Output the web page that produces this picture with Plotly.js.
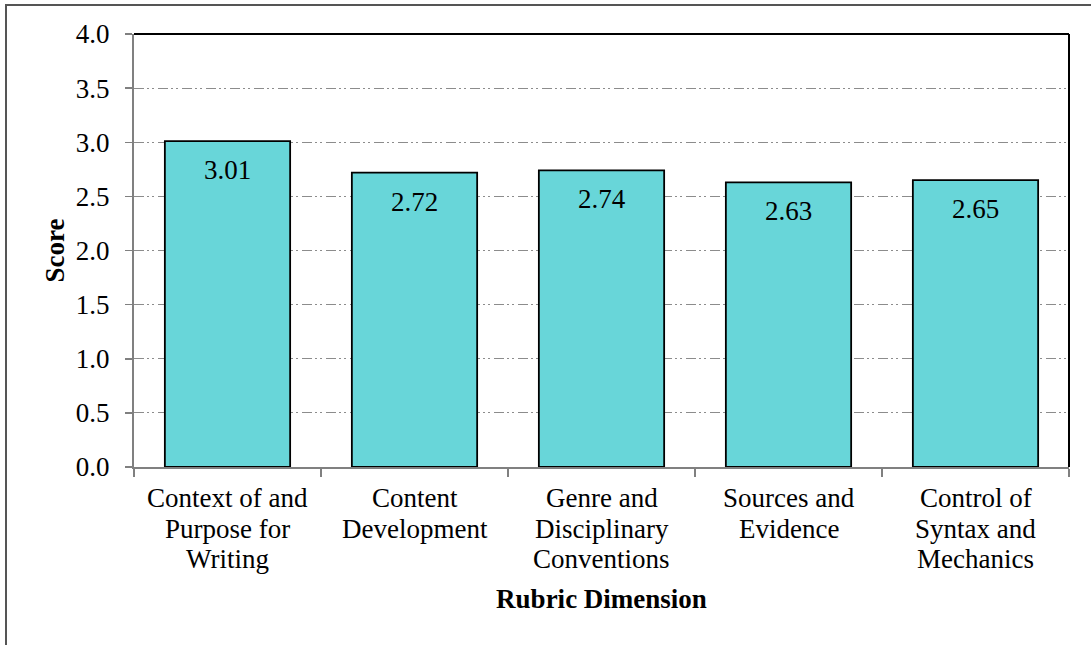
<!DOCTYPE html>
<html>
<head>
<meta charset="utf-8">
<script src="https://cdn.plot.ly/plotly-3.0.1.min.js"></script>
<style>
  html, body { margin: 0; padding: 0; background: #fff; }
  #wrap { position: relative; width: 1091px; height: 645px; }
  #chart { width: 1091px; height: 645px; }
  #frame { position: absolute; left: 5px; top: 4px; right: -2px; bottom: -2px;
           border-top: 2px solid #555; border-left: 2px solid #555; pointer-events: none; }
</style>
</head>
<body>
<div id="wrap">
  <div id="chart"></div>
  <div id="frame"></div>
</div>
<script>
// Mean rubric scores by dimension
const dimensions = [
  "Context of and<br>Purpose for<br>Writing",
  "Content<br>Development",
  "Genre and<br>Disciplinary<br>Conventions",
  "Sources and<br>Evidence",
  "Control of<br>Syntax and<br>Mechanics"
];
const scores = [3.01, 2.72, 2.74, 2.63, 2.65];
const yTicks = [0, 0.5, 1, 1.5, 2, 2.5, 3, 3.5, 4];

const serif = "Liberation Serif";
const fontSize = 27;
const lineStep = 30.5;   // line spacing of the category labels

const bars = {
  type: "bar",
  x: dimensions,
  y: scores,
  marker: { color: "#68D6D9", line: { color: "#000", width: 1.8 } },
  hoverinfo: "skip"
};

// value labels sit just under the top edge of each bar
const valueLabels = dimensions.map((d, i) => ({
  x: d, y: scores[i], xref: "x", yref: "y",
  text: scores[i].toFixed(2), showarrow: false,
  yanchor: "middle", yshift: -29,
  font: { family: serif, size: fontSize, color: "#000" }
}));

// category labels, one annotation per line for tighter leading
const categoryLabels = [];
dimensions.forEach(d => {
  d.split("<br>").forEach((line, j) => {
    categoryLabels.push({
      x: d, y: 0, xref: "x", yref: "paper",
      text: line, showarrow: false,
      yanchor: "middle", yshift: -31 - j * lineStep,
      font: { family: serif, size: fontSize, color: "#000" }
    });
  });
});

const layout = {
  width: 1091, height: 645,
  margin: { l: 134, r: 22, t: 34, b: 178 },
  paper_bgcolor: "#fff", plot_bgcolor: "#fff",
  showlegend: false,
  bargap: 0.33,
  font: { family: serif, color: "#000", size: fontSize },
  xaxis: {
    type: "category",
    showline: true, linecolor: "#808080", linewidth: 2,
    ticks: "outside", tickson: "boundaries", ticklen: 8, tickwidth: 1.5, tickcolor: "#808080",
    showticklabels: false,
    showgrid: false, zeroline: false,
    title: { text: "<b>Rubric Dimension</b>", font: { family: serif, size: fontSize, color: "#000" }, standoff: 121 }
  },
  yaxis: {
    range: [0, 4],
    tickvals: yTicks,
    tickformat: ".1f",
    showline: true, linecolor: "#808080", linewidth: 2,
    ticks: "outside", ticklen: 7, tickwidth: 1.5, tickcolor: "#808080",
    tickfont: { family: serif, size: fontSize, color: "#000" },
    ticklabelstandoff: 10,
    showgrid: true, gridcolor: "#8c8c8c", gridwidth: 1.2,
    griddash: "10px,3px,2px,3px,2px,4px",
    zeroline: false,
    title: { text: "<b>Score</b>", font: { family: serif, size: fontSize, color: "#000" }, standoff: 3 }
  },
  shapes: [
    { type: "line", xref: "paper", yref: "paper", x0: 0, x1: 1, y0: 1, y1: 1, line: { color: "#000", width: 2 } },
    { type: "line", xref: "paper", yref: "paper", x0: 1, x1: 1, y0: 0, y1: 1, line: { color: "#000", width: 2 } }
  ],
  annotations: valueLabels.concat(categoryLabels)
};

Plotly.newPlot("chart", [bars], layout, { displayModeBar: false, staticPlot: true });
</script>
</body>
</html>
